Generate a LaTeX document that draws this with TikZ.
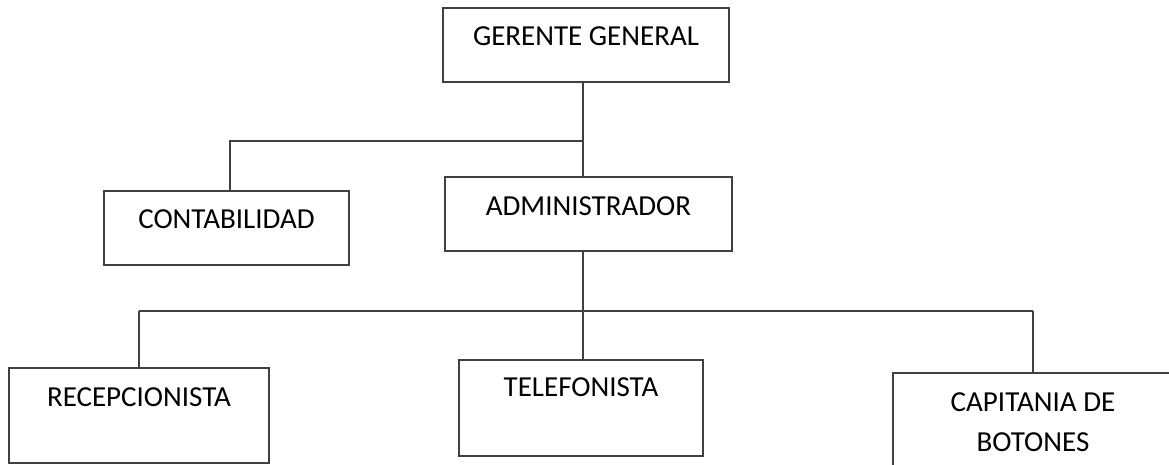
\documentclass[tikz,border=0pt]{standalone}
\usepackage{fontspec}
\setmainfont{Carlito}
\usepackage{xcolor}
\definecolor{linea}{HTML}{404040}

\begin{document}
\begin{tikzpicture}[x=0.5pt, y=-0.5pt, line width=0.9pt]

  \tikzstyle{puesto} = [rectangle, draw=linea, align=center, inner sep=0pt,
    font=\fontsize{14.5}{20}\selectfont];
  \tikzstyle{enlace} = [draw=linea];
  \useasboundingbox (0,0) rectangle (1169,465);
  \clip (0,0) rectangle (1169,465);

  \node[puesto, minimum width=143pt, text height=18.75pt, text depth=18.25pt] (gerente) at (586,45) {GERENTE GENERAL};
  \node[puesto, minimum width=143.5pt, text height=19.25pt, text depth=17.75pt] (admin) at (588.5,214) {ADMINISTRADOR};
  \node[puesto, minimum width=122.5pt, text height=18.75pt, text depth=18.25pt] (contab) at (226.5,228) {CONTABILIDAD};
  \node[puesto, minimum width=130pt, text height=19.25pt, text depth=28.25pt] (recep) at (139,415.5) {RECEPCIONISTA};
  \node[puesto, minimum width=122pt, text height=18.25pt, text depth=29.75pt] (telef) at (581,408) {TELEFONISTA};
  \node[puesto, minimum width=140pt, text height=39.25pt, text depth=10.75pt] (capit) at (1033,423) {CAPITANIA DE\\BOTONES};

  \coordinate (cruce1) at (583,141);
  \coordinate (cruce2) at (583,311);
  \coordinate (izq1) at (230,141);
  \coordinate (izq2) at (139,311);
  \coordinate (der2) at (1033,311);

  \draw[enlace] (gerente.south -| cruce1) -- (admin.north -| cruce1);
  \draw[enlace] (cruce1) -- (izq1) -- (izq1 |- contab.north);
  \draw[enlace] (admin.south -| cruce2) -- (telef.north -| cruce2);
  \draw[enlace] (izq2) -- (der2);
  \draw[enlace] (izq2) -- (recep.north);
  \draw[enlace] (der2) -- (capit.north);
\end{tikzpicture}
\end{document}
